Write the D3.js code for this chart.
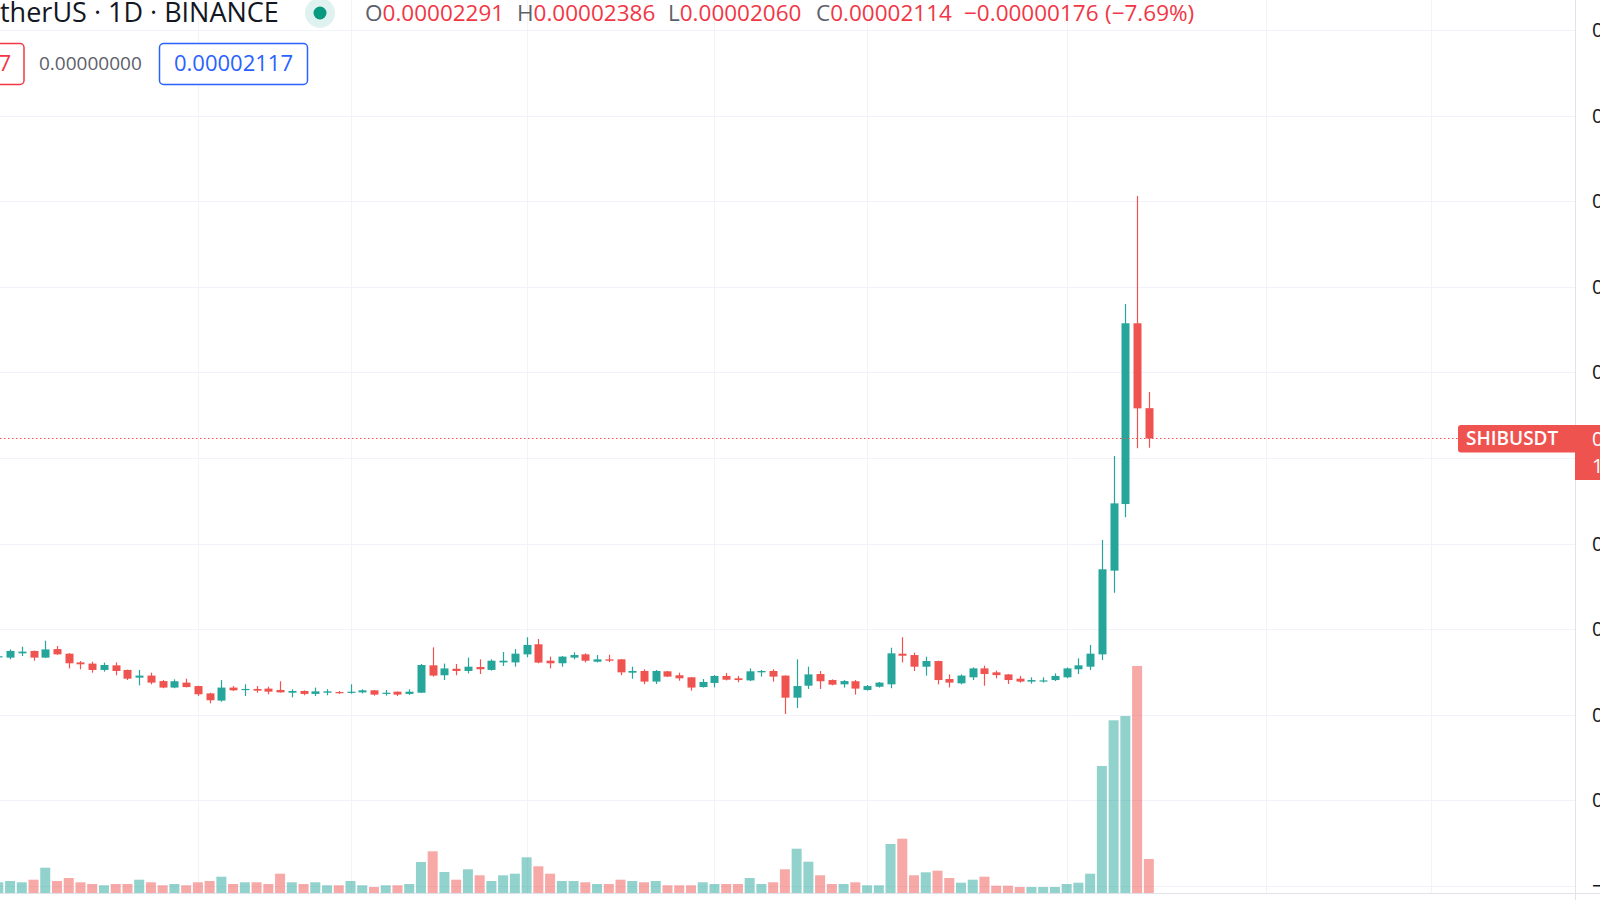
<!DOCTYPE html>
<html><head><meta charset="utf-8">
<script src="https://cdn.jsdelivr.net/npm/d3@7"></script>
<style>html,body{margin:0;padding:0;background:#fff;overflow:hidden}svg{display:block}</style>
</head><body><svg id="chart" width="1600" height="900"></svg>
<script>
// ---- data (prices in millionths of USDT, volume in billions of SHIB) ----
const firstDay = "2021-07-02";
const openP = [8.40,8.34,8.59,8.73,8.34,8.84,8.57,8.06,7.99,7.62,7.89,7.62,7.17,7.29,6.97,6.59,6.88,6.68,6.25,5.83,
  6.59,6.45,6.51,6.53,6.45,6.29,6.39,6.22,6.29,6.33,6.29,6.31,6.43,6.23,6.35,6.22,6.29,7.89,7.31,7.69,
  7.56,7.79,7.62,8.06,8.06,8.53,9.12,8.16,8.01,8.34,8.53,8.10,8.24,8.24,7.46,7.56,6.94,7.54,7.31,7.19,
  6.62,6.86,7.27,7.13,7.01,7.48,7.56,7.29,6.00,6.70,7.38,7.03,6.78,6.96,6.45,6.64,6.78,8.57,8.49,7.81,
  8.14,7.09,6.84,7.19,7.71,7.48,7.36,7.11,6.94,6.94,7.03,7.19,7.66,7.81,8.53,13.42,17.31,27.87,22.91];
const highP = [8.47,8.82,8.98,8.75,9.33,9.02,8.60,8.14,8.10,8.05,8.06,7.64,7.62,7.46,7.03,7.07,7.11,6.70,6.29,7.03,
  6.68,6.78,6.68,6.64,6.96,6.49,6.43,6.59,6.49,6.39,6.78,6.49,6.44,6.45,6.36,6.49,7.97,8.94,7.99,7.97,
  8.34,8.24,8.24,8.67,8.84,9.53,9.43,8.40,8.43,8.65,8.59,8.49,8.51,8.26,7.81,7.66,7.62,7.56,7.46,7.20,
  7.09,7.32,7.44,7.27,7.71,7.62,7.66,7.30,8.24,7.81,7.56,7.07,7.03,7.03,6.74,6.92,8.92,9.53,8.63,8.40,
  8.16,7.36,7.36,7.77,7.87,7.58,7.38,7.27,7.19,7.19,7.42,7.77,8.30,9.08,15.21,20.12,28.99,35.30,23.86];
const lowP = [8.35,8.24,8.43,8.16,8.32,8.51,7.71,7.66,7.46,7.52,7.31,7.03,6.72,6.78,6.55,6.55,6.60,6.10,5.67,5.77,
  6.39,6.10,6.29,6.20,6.30,6.02,6.14,6.10,6.14,6.23,6.23,6.25,6.12,6.12,6.10,6.16,6.28,7.23,7.03,7.31,
  7.42,7.38,7.58,7.85,7.81,8.36,8.01,7.71,7.81,8.24,8.06,8.06,8.08,7.31,7.11,6.80,6.80,7.21,6.99,6.41,
  6.59,6.60,7.01,6.90,6.97,7.23,6.94,5.05,5.40,6.51,6.51,6.72,6.59,6.18,6.41,6.59,6.55,8.06,7.56,7.29,
  6.78,6.60,6.78,7.03,6.70,7.13,6.80,6.88,6.82,6.88,6.97,7.13,7.38,7.62,8.20,12.13,16.54,20.57,20.60];
const closeP = [8.42,8.73,8.69,8.34,8.82,8.53,8.01,7.95,7.62,7.91,7.56,7.11,7.29,6.88,6.59,6.96,6.62,6.20,5.85,6.59,
  6.43,6.51,6.41,6.35,6.31,6.39,6.22,6.37,6.37,6.27,6.35,6.43,6.18,6.29,6.18,6.35,7.91,7.29,7.71,7.56,
  7.81,7.66,8.16,8.16,8.57,9.08,8.05,8.01,8.40,8.49,8.16,8.24,8.16,7.48,7.56,6.94,7.56,7.23,7.13,6.59,
  6.92,7.27,7.05,7.03,7.54,7.56,7.23,6.00,6.68,7.36,6.96,6.76,6.97,6.53,6.68,6.88,8.59,8.45,7.81,8.14,
  7.03,6.88,7.29,7.71,7.38,7.32,7.03,6.94,7.03,7.01,7.27,7.71,7.89,8.57,13.50,17.35,27.87,22.90,21.14];
const volume = [107,120,107,133,253,120,150,107,90,77,90,90,133,107,77,90,77,107,120,163,
  90,107,107,90,193,107,90,107,77,77,120,77,60,77,77,90,310,417,210,133,
  237,177,120,177,193,357,267,193,120,120,107,90,90,133,120,107,120,77,77,77,
  107,90,90,90,150,90,107,237,443,313,177,90,90,107,77,77,490,543,177,207,
  223,150,103,133,163,73,73,60,60,60,60,90,103,193,1270,1727,1770,2270,340];
const priceTicks = [-5,0,5,10,15,20,25,30,35,40,45];
const gridDates = ["2021-07-19","2021-08-01","2021-08-16","2021-09-01","2021-09-14","2021-10-01","2021-10-18","2021-11-01"];
const symbol = "SHIBUSDT";
const titleText = "therUS · 1D · BINANCE";
const countdown = "13:27:41";

// ---- layout ----
const W = 1600, H = 900;
const axisX = 1575, paneBottom = 893;
const UP = "#26a69a", DOWN = "#ef5350";
const FONT = "'Open Sans', 'Noto Sans', sans-serif";

const svg = d3.select("#chart");
const parse = d3.utcParse("%Y-%m-%d");
const start = parse(firstDay);
const dates = openP.map((_, i) => d3.utcDay.offset(start, i));

const x = d3.scaleUtc().domain([start, parse("2021-11-01")]).range([-1.7, 1430.6]);
const y = d3.scaleLinear().domain([-5, 45]).range([886, 30]);
const yVol = d3.scaleLinear().domain([0, 2270]).range([paneBottom, 666]);

const fmt = v => (v < 0 ? "\u2212" : "") + Math.abs(v * 1e-6).toFixed(8);

// grid
const grid = svg.append("g").attr("stroke", "#f0f3fa").attr("stroke-width", 1);
grid.selectAll(".h").data(priceTicks).join("line")
  .attr("x1", 0).attr("x2", axisX)
  .attr("y1", d => Math.round(y(d)) + 0.5).attr("y2", d => Math.round(y(d)) + 0.5);
grid.selectAll(".v").data(gridDates.map(parse)).join("line")
  .attr("y1", 0).attr("y2", paneBottom)
  .attr("x1", d => Math.round(x(d)) + 0.5).attr("x2", d => Math.round(x(d)) + 0.5);

// volume
const isUp = i => closeP[i] >= openP[i];
svg.append("g").selectAll("rect").data(volume).join("rect")
  .attr("x", (d, i) => x(dates[i]) - 5)
  .attr("width", 10)
  .attr("y", d => yVol(d))
  .attr("height", d => paneBottom - yVol(d))
  .attr("fill", (d, i) => isUp(i) ? UP : DOWN)
  .attr("fill-opacity", 0.5);

// candles
const cg = svg.append("g");
cg.selectAll("line").data(openP).join("line")
  .attr("x1", (d, i) => Math.round(x(dates[i])) + 0.5)
  .attr("x2", (d, i) => Math.round(x(dates[i])) + 0.5)
  .attr("y1", (d, i) => y(highP[i]))
  .attr("y2", (d, i) => y(lowP[i]))
  .attr("stroke", (d, i) => isUp(i) ? UP : DOWN)
  .attr("stroke-width", 1.2);
cg.selectAll("rect").data(openP).join("rect")
  .attr("x", (d, i) => Math.round(x(dates[i])) - 3.5)
  .attr("width", 8)
  .attr("y", (d, i) => y(Math.max(openP[i], closeP[i])))
  .attr("height", (d, i) => Math.max(1.2, Math.abs(y(openP[i]) - y(closeP[i]))))
  .attr("fill", (d, i) => isUp(i) ? UP : DOWN);

// last price line
const last = closeP.length - 1;
const yl = Math.round(y(closeP[last])) + 0.5;
svg.append("line").attr("x1", 0).attr("x2", 1458).attr("y1", yl).attr("y2", yl)
  .attr("stroke", DOWN).attr("stroke-width", 1).attr("stroke-dasharray", "1.5,2.5");

// price axis (the tick hidden under the last-price label is not drawn, as in the reference)
svg.append("line").attr("x1", axisX + 0.5).attr("x2", axisX + 0.5).attr("y1", 0).attr("y2", H)
  .attr("stroke", "#e0e3eb");
svg.append("line").attr("x1", 0).attr("x2", W).attr("y1", paneBottom + 0.5).attr("y2", paneBottom + 0.5)
  .attr("stroke", "#e0e3eb");
const visibleTicks = priceTicks.filter(t => Math.abs(y(t) - yl) > 45 || y(t) < yl - 20);
const ax = svg.append("g").attr("transform", `translate(${axisX},0)`)
  .call(d3.axisRight(y).tickValues(visibleTicks).tickFormat(fmt).tickSize(0).tickPadding(17));
ax.select(".domain").remove();
ax.selectAll("text").attr("font-family", FONT).attr("font-size", 20).attr("fill", "#131722");

// symbol label + axis price label
svg.append("path")
  .attr("d", `M${axisX},${yl - 13.5} H1461 Q1458,${yl - 13.5} 1458,${yl - 10.5} V${yl + 11} Q1458,${yl + 14} 1461,${yl + 14} H${axisX} Z`)
  .attr("fill", DOWN);
svg.append("text").attr("x", 1466).attr("y", yl).attr("dy", "0.35em")
  .attr("font-family", FONT).attr("font-size", 19).attr("font-weight", 600).attr("fill", "#fff")
  .text(symbol);
svg.append("rect").attr("x", axisX).attr("y", yl - 13.5).attr("width", W - axisX).attr("height", 55).attr("fill", DOWN);
svg.append("text").attr("x", axisX + 17).attr("y", yl).attr("dy", "0.35em")
  .attr("font-family", FONT).attr("font-size", 20).attr("fill", "#fff").text(fmt(closeP[last]));
svg.append("text").attr("x", axisX + 17).attr("y", yl + 27).attr("dy", "0.35em")
  .attr("font-family", FONT).attr("font-size", 20).attr("fill", "#fff").text(countdown);

// header
svg.append("text").attr("x", 0).attr("y", 13).attr("dy", "0.35em")
  .attr("font-family", FONT).attr("font-size", 27).attr("fill", "#131722").text(titleText);
svg.append("circle").attr("cx", 320).attr("cy", 13).attr("r", 15).attr("fill", "#26a69a").attr("fill-opacity", 0.15);
svg.append("circle").attr("cx", 320).attr("cy", 13).attr("r", 6.5).attr("fill", "#089981");

const chg = closeP[last] - closeP[last - 1];
const pct = chg / closeP[last - 1] * 100;
const legend = [
  {x: 365, lab: "O", val: fmt(openP[last])},
  {x: 517, lab: "H", val: fmt(highP[last])},
  {x: 668, lab: "L", val: fmt(lowP[last])},
  {x: 816, lab: "C", val: fmt(closeP[last])},
  {x: 964, lab: "", val: fmt(chg)},
  {x: 1105, lab: "", val: "(" + (pct < 0 ? "\u2212" : "") + Math.abs(pct).toFixed(2) + "%)"}
];
const lg = svg.append("g").attr("font-family", FONT).attr("font-size", 22.5);
legend.forEach(d => {
  const t = lg.append("text").attr("x", d.x).attr("y", 13).attr("dy", "0.35em");
  if (d.lab) t.append("tspan").attr("fill", "#5d606b").text(d.lab);
  t.append("tspan").attr("fill", "#f23645").text(d.val);
});

// second row
svg.append("rect").attr("x", -20).attr("y", 43.5).attr("width", 44).attr("height", 41).attr("rx", 4)
  .attr("fill", "#fff").attr("stroke", "#f23645").attr("stroke-width", 1.5);
svg.append("text").attr("x", 11).attr("y", 63).attr("dy", "0.35em").attr("text-anchor", "end")
  .attr("font-family", FONT).attr("font-size", 22).attr("fill", "#f23645").text(fmt(21.17));
svg.append("text").attr("x", 39).attr("y", 63).attr("dy", "0.35em")
  .attr("font-family", FONT).attr("font-size", 19).attr("fill", "#5d606b").text(fmt(0));
svg.append("rect").attr("x", 159.5).attr("y", 43.5).attr("width", 148).attr("height", 41).attr("rx", 4)
  .attr("fill", "#fff").attr("stroke", "#2962ff").attr("stroke-width", 1.5);
svg.append("text").attr("x", 233.5).attr("y", 63).attr("dy", "0.35em").attr("text-anchor", "middle")
  .attr("font-family", FONT).attr("font-size", 22).attr("fill", "#2962ff").text(fmt(21.17));
</script></body></html>
